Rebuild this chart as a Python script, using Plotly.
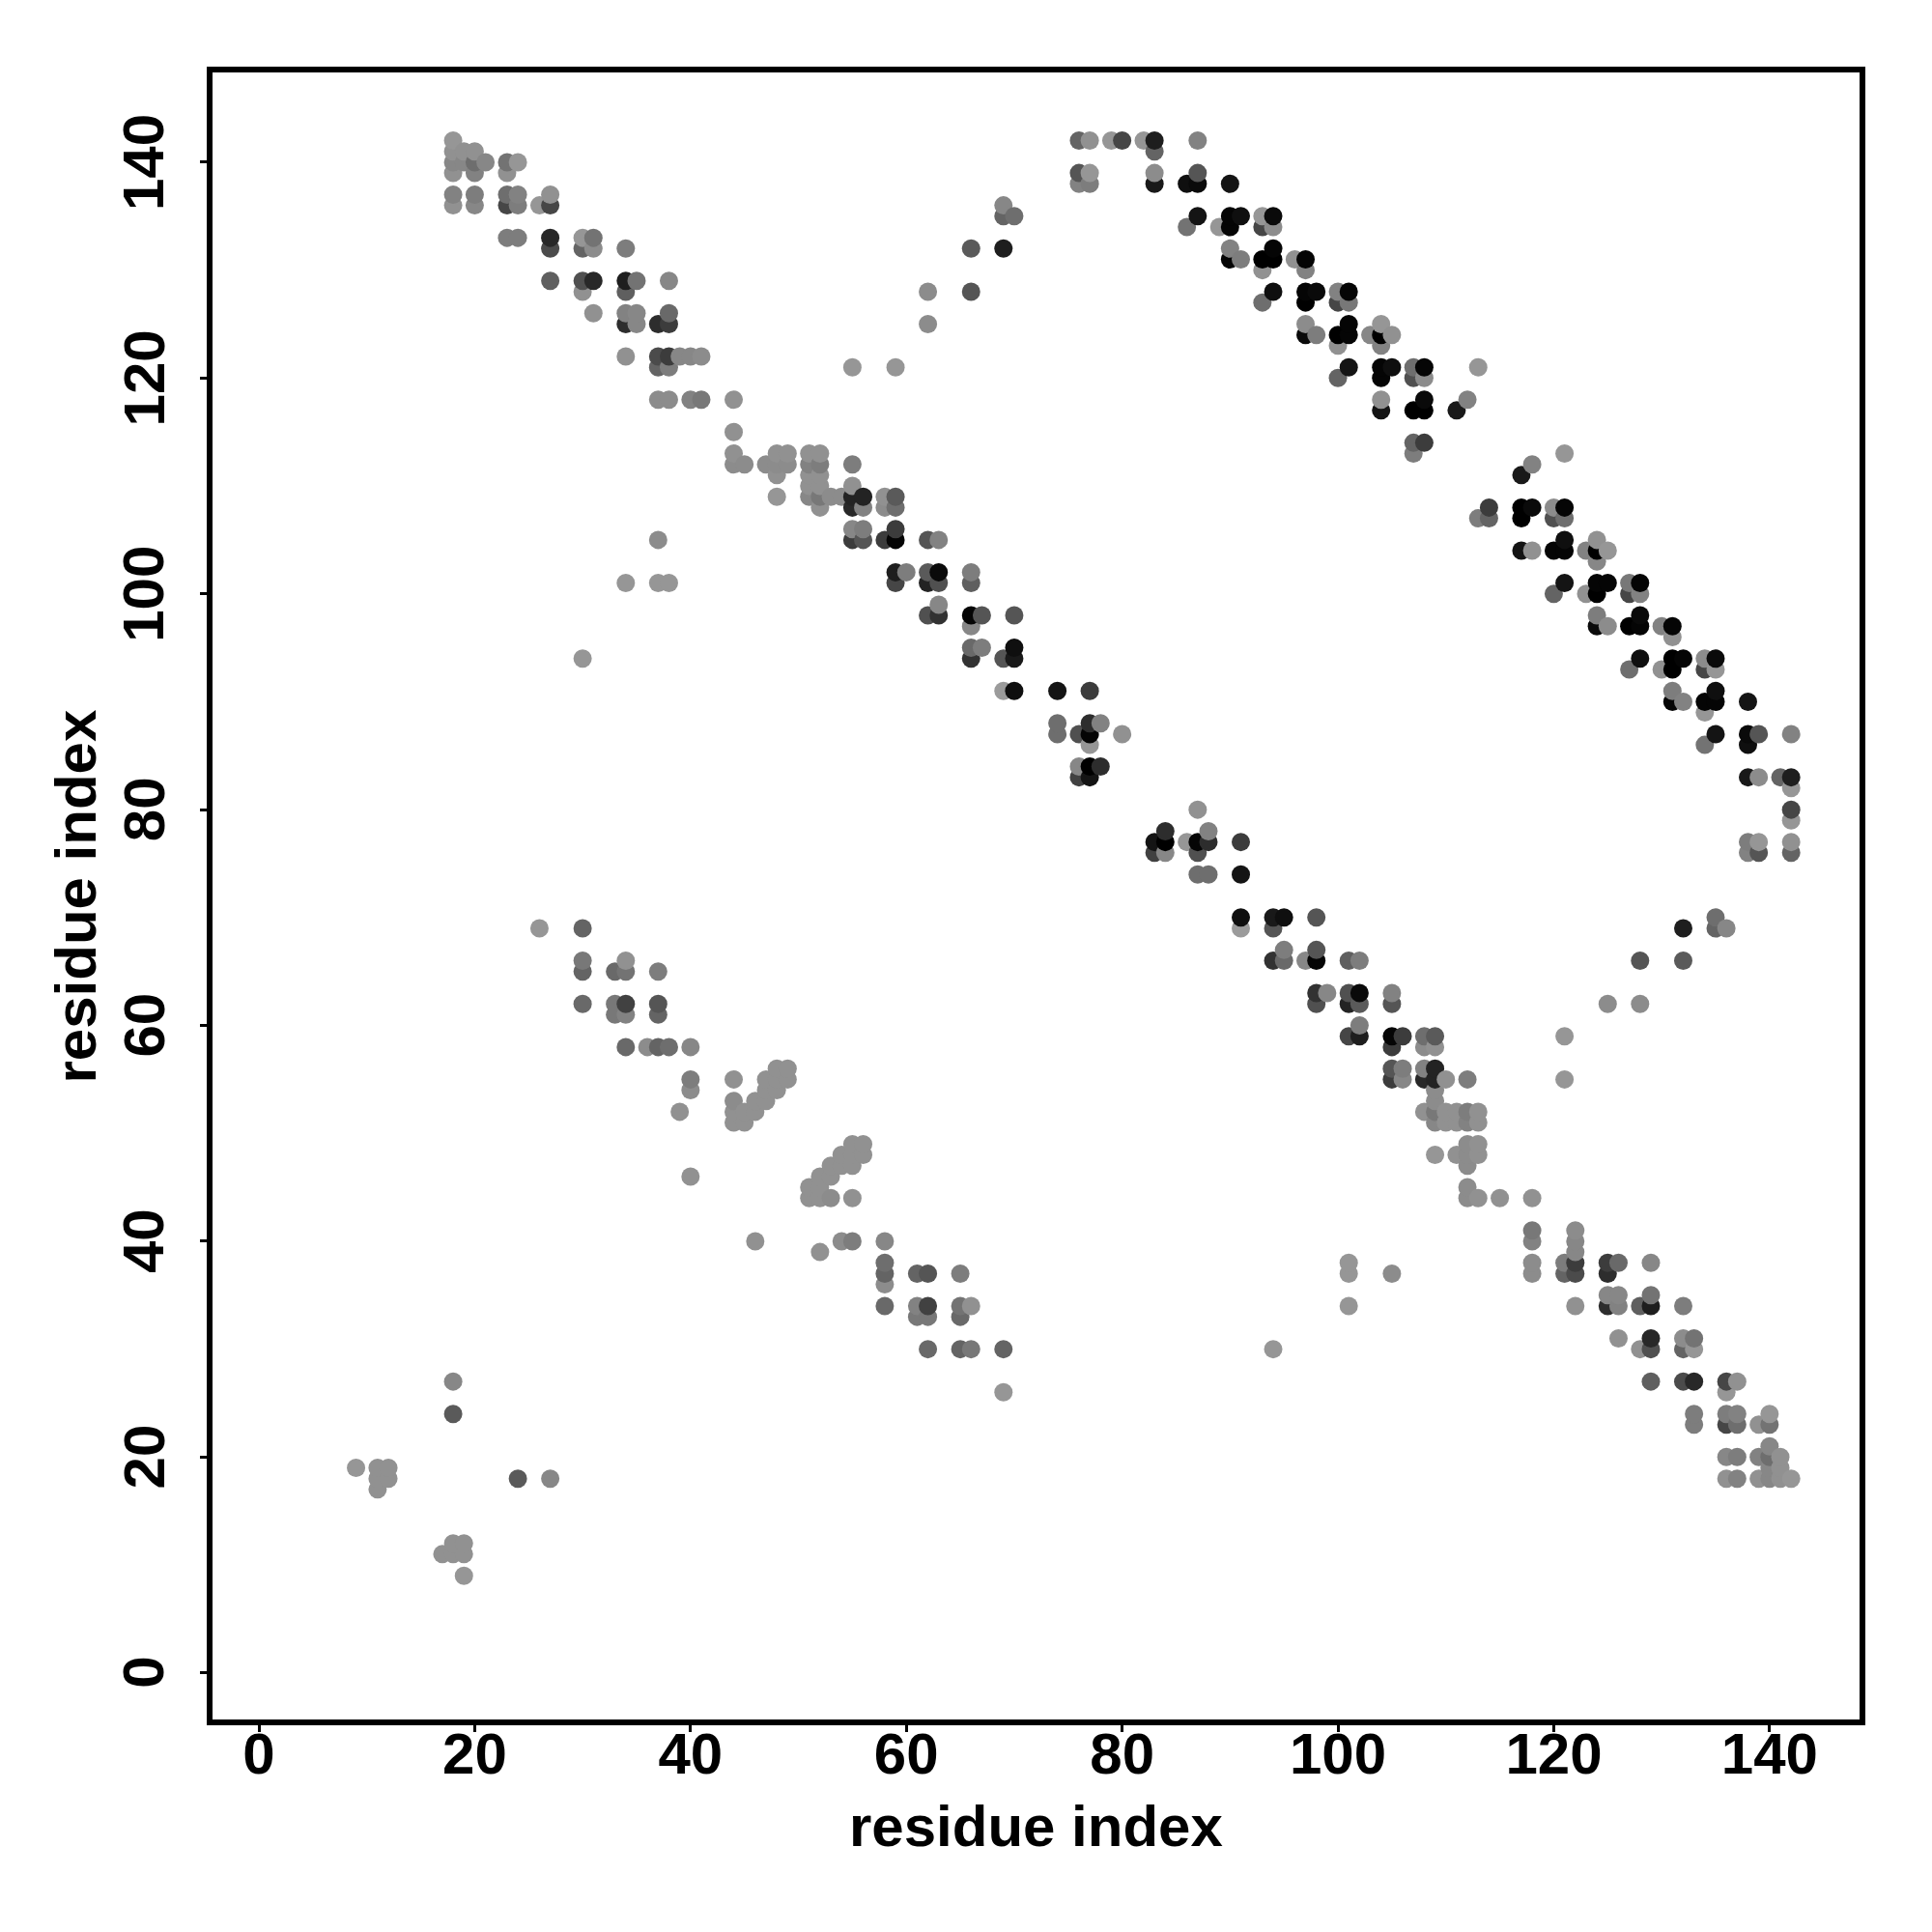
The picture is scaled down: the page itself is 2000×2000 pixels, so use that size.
import plotly.graph_objects as go

# Contacts as (residue i, residue j, grey level), i < j; the map is symmetric.
main_band = [
    (18,142,150),
    (18,141,145),(19,141,145),(20,141,145),
    (18,140,135),(19,140,135),(20,140,110),(21,140,135),(23,140,115),(24,140,150),
    (18,139,145),(20,139,130),(23,139,145),
    (18,137,130),(20,137,125),(23,137,110),(24,137,130),(27,137,145),
    (18,136,145),(20,136,135),(23,136,70),(24,136,125),(26,136,150),(27,136,70),
    (23,133,125),(24,133,125),(27,133,40),(30,133,150),(31,133,115),
    (27,132,75),(30,132,100),(31,132,140),(34,132,125),
    (27,129,95),(30,129,80),(31,129,40),(34,129,30),(35,129,115),(38,129,135),
    (30,128,145),(34,128,95),
    (31,126,145),(34,126,130),(35,126,135),(38,126,105),
    (34,125,45),(35,125,135),(37,125,45),(38,125,60),
    (34,122,145),(37,122,75),(38,122,60),(39,122,135),(40,122,135),(41,122,140),
    (37,121,100),(38,121,125),
    (37,118,140),(38,118,140),(40,118,130),(41,118,120),(44,118,145),
    (44,115,145),
    (44,113,145),(48,113,145),(49,113,145),(51,113,145),(52,113,145),
    (44,112,140),(45,112,140),(47,112,140),(48,112,140),(49,112,140),(51,112,130),(52,112,125),(55,112,125),
    (48,111,145),(51,111,145),(52,111,145),
    (51,110,145),(52,110,145),(55,110,145),
    (48,109,150),(51,109,135),(52,109,120),(53,109,140),(54,109,140),(55,109,35),(56,109,35),(58,109,145),(59,109,90),
    (52,108,145),(55,108,40),(56,108,130),(58,108,140),(59,108,110),
    (55,106,135),(56,106,125),(59,106,60),
    (55,105,60),(56,105,85),(58,105,60),(59,105,5),(62,105,85),(63,105,130),
    (59,102,30),(60,102,125),(62,102,90),(63,102,10),(66,102,125),
    (59,101,70),(62,101,35),(63,101,80),(66,101,95),
    (63,99,135),
    (62,98,80),(63,98,50),(66,98,5),(67,98,85),(70,98,85),
    (66,97,135),
    (66,95,105),(67,95,125),(70,95,15),
    (66,94,50),(69,94,85),(70,94,25),
    (69,91,155),(70,91,15),(74,91,20),(77,91,60),
    (74,88,110),(77,88,45),(78,88,130),
    (74,87,110),(76,87,80),(77,87,5),(80,87,145),
    (77,86,150),
    (76,84,135),(77,84,0),(78,84,45),
    (76,83,65),(77,83,20),
]

upper_band = [
    (76,142,100),(77,142,145),(79,142,150),(80,142,70),(82,142,150),(83,142,30),(87,142,130),
    (83,141,100),
    (76,139,85),(77,139,150),(83,139,140),(87,139,85),
    (76,138,130),(77,138,125),(83,138,25),(86,138,15),(87,138,10),(90,138,20),
    (87,135,20),(90,135,5),(91,135,15),(93,135,150),(94,135,10),
    (86,134,115),(89,134,150),(90,134,5),(93,134,70),(94,134,140),
    (90,132,130),(94,132,5),
    (90,131,5),(91,131,125),(93,131,0),(94,131,0),(96,131,145),(97,131,5),
    (93,130,145),(97,130,130),
    (94,128,15),(97,128,5),(98,128,10),(100,128,130),(101,128,5),
    (93,127,110),(97,127,0),(100,127,70),(101,127,120),
    (97,125,140),(101,125,5),(104,125,150),
    (97,124,10),(98,124,125),(100,124,0),(101,124,5),(103,124,135),(104,124,0),(105,124,145),
    (100,123,145),(104,123,130),
    (101,121,20),(104,121,5),(105,121,15),(107,121,110),(108,121,5),(113,121,150),
    (100,120,100),(104,120,5),(107,120,80),(108,120,140),
    (104,118,145),(108,118,10),(112,118,130),
    (104,117,20),(107,117,0),(108,117,0),(111,117,25),
    (107,114,100),(108,114,60),
    (107,113,125),
]

lower_band = [
    (26,69,150),(30,69,100),
    (30,66,120),(34,66,145),
    (30,65,100),(33,65,105),(34,65,115),(37,65,125),
    (30,62,105),(33,62,120),(34,62,65),(37,62,85),
    (33,61,120),(34,61,130),(37,61,100),
    (34,58,105),(36,58,140),(37,58,100),(38,58,110),(40,58,135),
    (40,55,125),(40,54,140),(39,52,145),(40,46,145),
    (44,55,145),(44,53,140),(44,52,145),(44,51,145),
    (45,52,145),(45,51,145),(46,53,145),(46,52,145),
    (47,55,145),(47,54,145),(47,53,145),
    (48,56,145),(48,55,145),(48,54,145),
    (49,56,145),(49,55,145),
]

sparse_contacts = [
    (9,19,150),(11,19,145),(12,19,145),(11,18,145),(12,18,145),(11,17,145),
    (18,24,90),(18,27,135),
    (30,94,150),(34,101,150),(37,101,150),(38,101,150),(37,105,140),
    (55,121,150),(59,121,150),(62,125,140),(62,128,140),
    (66,128,85),(66,132,90),(69,132,30),(69,135,100),(70,135,110),(69,136,135),
]

tick_values = [0, 20, 40, 60, 80, 100, 120, 140]
axis_label = "residue index"

half = main_band + upper_band + lower_band + sparse_contacts
both = {}
for i, j, g in half:
    both[(i, j)] = g
    both[(j, i)] = g
points = sorted(both.items())

x_vals = [k[0] for k, g in points]
y_vals = [k[1] for k, g in points]
colors = [f"rgb({g},{g},{g})" for k, g in points]

fig = go.Figure(go.Scatter(
    x=x_vals, y=y_vals, mode="markers",
    marker=dict(size=19, color=colors, line=dict(width=0)),
))

tick_font = dict(family="Liberation Sans", size=60, color="black", weight="bold")
title_font = dict(family="Liberation Sans", size=60, color="black", weight="bold")

axis_common = dict(
    tickmode="array", tickvals=tick_values,
    ticks="outside", ticklen=7, tickwidth=3, tickcolor="black",
    showline=True, linewidth=6, linecolor="black", mirror=True,
    showgrid=False, zeroline=False,
)
fig.update_xaxes(range=[-4.30, 148.34], tickfont=tick_font, ticklabelstandoff=-29, **axis_common)
fig.update_yaxes(range=[-4.32, 148.32], showticklabels=False, **axis_common)

annotations = [
    dict(text=axis_label, xref="paper", yref="paper", x=0.5, y=-0.0651,
         xanchor="center", yanchor="middle", showarrow=False, font=title_font),
    dict(text=axis_label, xref="paper", yref="paper", x=-0.0827, y=0.5, textangle=-90,
         xanchor="center", yanchor="middle", showarrow=False, font=title_font),
]
for v in tick_values:
    annotations.append(dict(text=str(v), xref="paper", yref="y", x=-0.0416, y=v, textangle=-90,
                            xanchor="center", yanchor="middle", showarrow=False, font=tick_font))

fig.update_layout(
    width=2000, height=2000, autosize=False,
    margin=dict(l=220, r=75, t=75, b=220),
    paper_bgcolor="white", plot_bgcolor="white", showlegend=False,
    annotations=annotations,
)
fig.write_html("out.html", config={"displayModeBar": False},
               post_script="document.body.style.margin='0';")
